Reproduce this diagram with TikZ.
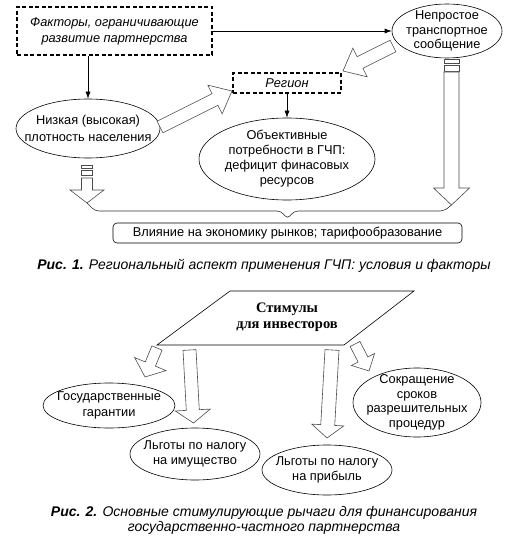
\documentclass[tikz,border=0pt]{standalone}
\usepackage{fontspec}
\setmainfont{Liberation Sans}
\newfontfamily\serifbf{Liberation Serif}
\usetikzlibrary{shapes.geometric,arrows.meta,calc}
\newcommand\barr[5]{%
  \draw[barrowstyle]
   ($(#1)!#3!90:(#2)$)
   -- ($($(#2)!#5!(#1)$)!#3!90:(#2)$)
   -- ($($(#2)!#5!(#1)$)!#4!90:(#2)$)
   -- (#2)
   -- ($($(#2)!#5!(#1)$)!#4!-90:(#2)$)
   -- ($($(#2)!#5!(#1)$)!#3!-90:(#2)$)
   -- ($(#1)!#3!-90:(#2)$) -- cycle;}
\begin{document}
\begin{tikzpicture}[x=1pt,y=-1pt,
  txt/.style={font=\fontsize{12.8}{15.5}\selectfont, align=center, inner sep=0pt},
  oval/.style={ellipse, draw, line width=0.6pt, inner sep=0pt},
  dbox/.style={draw, line width=1.3pt, dash pattern=on 4pt off 2.5pt, inner sep=0pt},
  thinarr/.style={line width=0.6pt, -{Latex[length=7pt,width=5pt]}},
  barrowstyle/.style={draw=black!70, line width=0.6pt, fill=white, line join=miter},
  captxt/.style={font=\itshape\fontsize{14}{16}\selectfont, align=center, inner sep=0pt},
]
\useasboundingbox (0,0) rectangle (516,540);

% ---------- Figure 1 ----------
\node[dbox, minimum width=195pt, minimum height=48pt] (f1) at (114.5,31) {};
\node[txt, font=\itshape\fontsize{12.8}{16}\selectfont] (f1t) at (f1) {Факторы, ограничивающие\\развитие партнерства};

\node[oval, minimum width=110pt, minimum height=54pt] (tr) at (447,31) {};
\node[txt, font=\fontsize{12.8}{14.5}\selectfont] (trt) at (tr) {Непростое\\транспортное\\сообщение};

\node[oval, minimum width=144pt, minimum height=59pt] (n1) at (88,128.5) {};
\node[txt, font=\fontsize{12.8}{17}\selectfont] (n1t) at (n1) {Низкая (высокая)\\плотность населения};

\node[dbox, minimum width=108pt, minimum height=20pt] (reg) at (287,83) {};
\node[txt, font=\itshape\fontsize{12.8}{15}\selectfont] (regt) at (reg) {Регион};

\node[oval, minimum width=176pt, minimum height=82pt] (obj) at (287,159) {};
\node[txt, font=\fontsize{12.8}{15}\selectfont] (objt) at (obj) {Объективные\\потребности в ГЧП:\\дефицит финасовых\\ресурсов};

\node[draw, line width=0.6pt, rounded corners=4pt, minimum width=349pt, minimum height=20pt, inner sep=0pt] (inf) at (287.5,233) {};
\node[txt] (inft) at (inf) {Влияние на экономику рынков; тарифообразование};

\draw[thinarr] (f1.east) -- (tr.west);
\draw[thinarr] (f1.south -| n1.north) -- (n1.north);
\draw[thinarr] (reg.south) -- (obj.north);

% block arrows fig 1
\coordinate (a1s) at (160,127);
\coordinate (a1e) at (232,91);
\barr{a1s}{a1e}{6.5pt}{16pt}{19pt}
\coordinate (a2s) at (393,46);
\coordinate (a2e) at (343,71);
\barr{a2s}{a2e}{6.5pt}{16pt}{19pt}

% striped arrow left
\coordinate (ls) at (87,178);
\coordinate (le) at (87,203);
\draw[barrowstyle] (81.5,165) rectangle (92.5,168);
\draw[barrowstyle] (81.5,170.5) rectangle (92.5,175.5);
\barr{ls}{le}{5.5pt}{17pt}{13pt}
% striped arrow right
\coordinate (rs) at (451.5,72);
\coordinate (re) at (451.5,205);
\draw[barrowstyle] (444,59) rectangle (459,63);
\draw[barrowstyle] (444,65.5) rectangle (459,71);
\barr{rs}{re}{7.5pt}{18pt}{17pt}

% brace
\coordinate (bp) at (287.5,219);
\draw[line width=0.6pt, rounded corners=4pt, black!80] (le) -- (95,211) -- (281,211) -- (bp) -- (294,211) -- (444,211) -- (re);

\node[captxt] (c1) at (264,266) {\textbf{Рис. 1.} Региональный аспект применения ГЧП: условия и факторы};

% ---------- Figure 2 ----------
\coordinate (p1) at (230,291);
\coordinate (p2) at (414,291);
\coordinate (p3) at (344,345);
\coordinate (p4) at (157,345);
\draw[line width=0.6pt] (p1) -- (p2) -- (p3) -- (p4) -- cycle;
\node[txt, font=\serifbf\bfseries\fontsize{14.5}{16}\selectfont] (stim) at (287,317.5) {Стимулы\\для инвесторов};

\node[oval, minimum width=132pt, minimum height=45pt] (gos) at (109,405.5) {};
\node[txt, font=\fontsize{12.8}{16}\selectfont] (gost) at (gos) {Государственные\\гарантии};

\node[oval, minimum width=130pt, minimum height=52pt] (imu) at (195,454) {};
\node[txt, font=\fontsize{12.8}{14.5}\selectfont] (imut) at (imu) {Льготы по налогу\\на имущество};

\node[oval, minimum width=130pt, minimum height=50pt] (pri) at (327,470) {};
\node[txt, font=\fontsize{12.8}{15}\selectfont] (prit) at (pri) {Льготы по налогу\\на прибыль};

\node[oval, minimum width=128pt, minimum height=69pt] (sok) at (417,402.5) {};
\node[txt, font=\fontsize{12.8}{14.5}\selectfont] (sokt) at (sok) {Сокращение\\сроков\\разрешительных\\процедур};

\coordinate (b1s) at (157,348);
\coordinate (b1e) at (145,377);
\barr{b1s}{b1e}{5.5pt}{17pt}{14pt}
\coordinate (b2s) at (189.5,350);
\coordinate (b2e) at (193.5,423);
\barr{b2s}{b2e}{6.5pt}{17.5pt}{13pt}
\coordinate (b3s) at (332,350);
\coordinate (b3e) at (327,438);
\barr{b3s}{b3e}{7pt}{16pt}{13pt}
\coordinate (b4s) at (355,344);
\coordinate (b4e) at (369,371);
\barr{b4s}{b4e}{5.5pt}{13pt}{13pt}

\node[captxt, font=\itshape\fontsize{14}{15.5}\selectfont] (c2) at (264,520.5) {\textbf{Рис. 2.} Основные стимулирующие рычаги для финансирования\\государственно-частного партнерства};
\end{tikzpicture}
\end{document}
